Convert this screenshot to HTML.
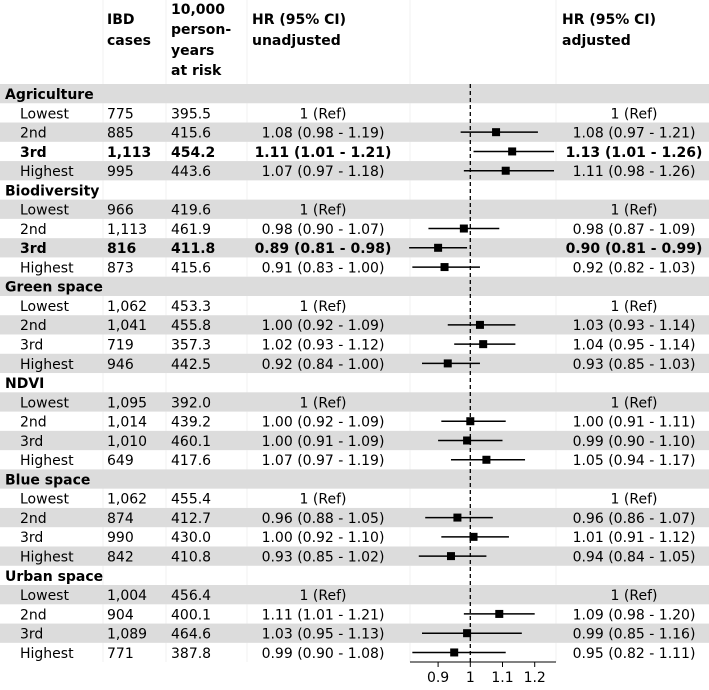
<!DOCTYPE html>
<html><head><meta charset="utf-8">
<style>
body{margin:0;background:#fff;}
svg text{font-family:"DejaVu Sans","Liberation Sans",sans-serif;font-size:14px;fill:#000;}
</style></head>
<body>
<svg id="c" width="709" height="685" xmlns="http://www.w3.org/2000/svg"></svg>
<script>
const groups=["Agriculture","Biodiversity","Green space","NDVI","Blue space","Urban space"];
const levels=["Lowest","2nd","3rd","Highest"];
const cases=[["775","885","1,113","995"],["966","1,113","816","873"],["1,062","1,041","719","946"],["1,095","1,014","1,010","649"],["1,062","874","990","842"],["1,004","904","1,089","771"]];
const pyears=[["395.5","415.6","454.2","443.6"],["419.6","461.9","411.8","415.6"],["453.3","455.8","357.3","442.5"],["392.0","439.2","460.1","417.6"],["455.4","412.7","430.0","410.8"],["456.4","400.1","464.6","387.8"]];
const hrUnadj=[["1 (Ref)","1.08 (0.98 - 1.19)","1.11 (1.01 - 1.21)","1.07 (0.97 - 1.18)"],["1 (Ref)","0.98 (0.90 - 1.07)","0.89 (0.81 - 0.98)","0.91 (0.83 - 1.00)"],["1 (Ref)","1.00 (0.92 - 1.09)","1.02 (0.93 - 1.12)","0.92 (0.84 - 1.00)"],["1 (Ref)","1.00 (0.92 - 1.09)","1.00 (0.91 - 1.09)","1.07 (0.97 - 1.19)"],["1 (Ref)","0.96 (0.88 - 1.05)","1.00 (0.92 - 1.10)","0.93 (0.85 - 1.02)"],["1 (Ref)","1.11 (1.01 - 1.21)","1.03 (0.95 - 1.13)","0.99 (0.90 - 1.08)"]];
const estAdj=[[null,1.08,1.13,1.11],[null,0.98,0.90,0.92],[null,1.03,1.04,0.93],[null,1.00,0.99,1.05],[null,0.96,1.01,0.94],[null,1.09,0.99,0.95]];
const loAdj=[[null,0.97,1.01,0.98],[null,0.87,0.81,0.82],[null,0.93,0.95,0.85],[null,0.91,0.90,0.94],[null,0.86,0.91,0.84],[null,0.98,0.85,0.82]];
const hiAdj=[[null,1.21,1.26,1.26],[null,1.09,0.99,1.03],[null,1.14,1.14,1.03],[null,1.11,1.10,1.17],[null,1.07,1.12,1.05],[null,1.20,1.16,1.11]];
const boldRows=[[0,2],[1,2]];
const xTicks=[0.9,1,1.1,1.2];
const xTickLabels=["0.9","1","1.1","1.2"];

const NS="http://www.w3.org/2000/svg";
const svg=document.getElementById('c');
function el(t,a,p){const e=document.createElementNS(NS,t);for(const k in a)e.setAttribute(k,a[k]);(p||svg).appendChild(e);return e;}
function txt(s,x,y,o){const e=el('text',Object.assign({x:x,y:y},o||{}));e.textContent=s;return e;}
const top0=84, rh=19.27;
const xs=v=>470.3+(v-1)*322;
const rowY=i=>top0+i*rh;

const hdr=[["IBD",107,24],["cases",107,45],["10,000",171,14],["person-",171,34],["years",171,55],["at risk",171,75],["HR (95% CI)",252,24],["unadjusted",252,45],["HR (95% CI)",562,24],["adjusted",562,45]];
hdr.forEach(h=>{const t=txt(h[0],h[1],h[2],{'font-weight':'bold'});

});
[103,166,247,410,556].forEach(x=>el('line',{x1:x,x2:x,y1:0,y2:662,stroke:'#f2f2f2','stroke-width':1}));

let r=0;
groups.forEach((g,gi)=>{
  const y=rowY(r);
  if(r%2===0){const b=el('rect',{x:0,y:y,width:709,height:rh,fill:'#dcdcdc'});}
  const gt=txt(g,5,y+15,{'font-weight':'bold'});
  
  
  r++;
  levels.forEach((lv,li)=>{
    const y=rowY(r);
    if(r%2===0){const b=el('rect',{x:0,y:y,width:709,height:rh,fill:'#dcdcdc'});}
    const bold=boldRows.some(b=>b[0]===gi&&b[1]===li);
    const o=bold?{'font-weight':'bold'}:{};
    const ty=y+15;
    const l=txt(lv,20,ty,o);
    const c=txt(cases[gi][li],107,ty,o);
    const p=txt(pyears[gi][li],171,ty,o);
    const hu=txt(hrUnadj[gi][li],323,ty,Object.assign({'text-anchor':'middle'},o));
    const e=estAdj[gi][li];
    const adjStr=e===null?"1 (Ref)":e.toFixed(2)+" ("+loAdj[gi][li].toFixed(2)+" - "+hiAdj[gi][li].toFixed(2)+")";
    const ha=txt(adjStr,634,ty,Object.assign({'text-anchor':'middle'},o));
    if(e!==null){
      const cy=y+rh/2;
      const ln=el('line',{x1:xs(loAdj[gi][li]),x2:xs(hiAdj[gi][li]),y1:cy,y2:cy,stroke:'#000','stroke-width':1.5});
      
      const m=el('rect',{x:xs(e)-4,y:cy-4,width:8,height:8,fill:'#000'});
      
    }
    r++;
  });
});
const ref=el('line',{x1:xs(1),x2:xs(1),y1:top0,y2:662,stroke:'#000','stroke-width':1.3,'stroke-dasharray':'4,3'});

const ax=el('line',{x1:410,x2:556,y1:662,y2:662,stroke:'#000','stroke-width':1});

xTicks.forEach((v,i)=>{
  el('line',{x1:xs(v),x2:xs(v),y1:662,y2:667,stroke:'#000','stroke-width':1});
  const t=txt(xTickLabels[i],xs(v),682,{'text-anchor':'middle'});
  
  
});
</script>
</body></html>
